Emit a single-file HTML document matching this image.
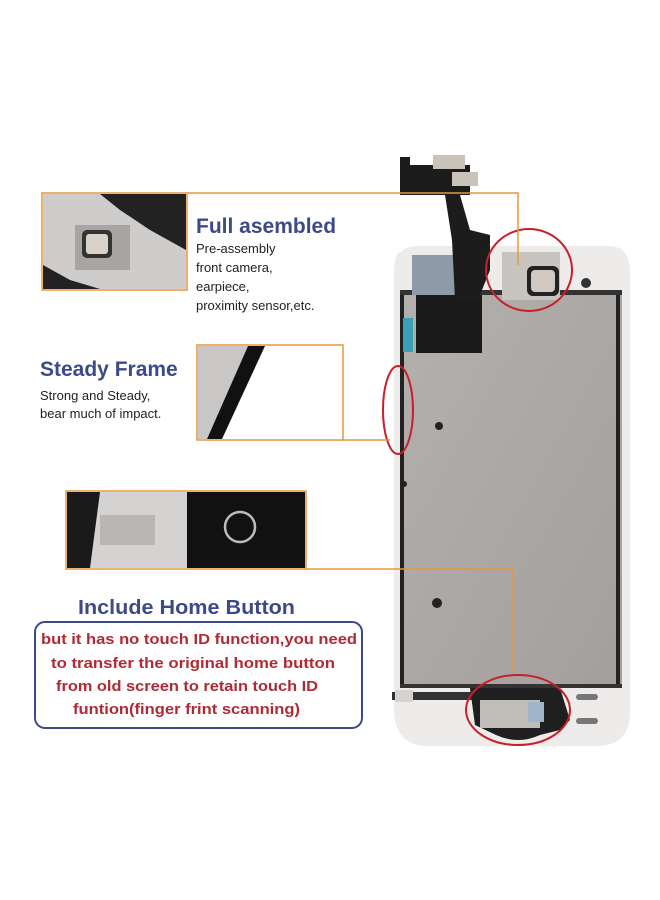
<!DOCTYPE html>
<html><head><meta charset="utf-8"><style>
html,body{margin:0;padding:0;background:#fff;width:660px;height:900px;overflow:hidden}
svg{display:block}
text{font-family:"Liberation Sans","DejaVu Sans",sans-serif}
</style></head><body>
<svg width="660" height="900" viewBox="0 0 660 900" xmlns="http://www.w3.org/2000/svg">
<defs>
<linearGradient id="pl" x1="0" y1="0" x2="1" y2="1"><stop offset="0" stop-color="#b4b0ae"/><stop offset="1" stop-color="#a39f9d"/></linearGradient>
</defs>
<path d="M402 252 Q404 246 420 246 L612 246 Q628 248 630 268 L630 712 Q630 744 600 746 L424 746 Q396 744 394 712 L394 268 Q396 250 402 252Z" fill="#eeeceb"/>
<rect x="400" y="290" width="222" height="398" fill="url(#pl)"/>
<rect x="400" y="290" width="4" height="398" fill="#222"/>
<rect x="616" y="290" width="4" height="398" fill="#222"/>
<rect x="400" y="290" width="222" height="5" fill="#333"/>
<rect x="400" y="684" width="222" height="4" fill="#333"/>
<rect x="412" y="255" width="60" height="40" fill="#8e9aa8"/>
<rect x="416" y="295" width="66" height="58" fill="#1a1a1a"/>
<rect x="403" y="318" width="10" height="34" fill="#3aa0b8"/>
<path d="M400 157 L410 157 L410 165 L470 165 L470 195 L460 195 L470 230 L490 235 L490 270 L478 300 L455 300 L452 240 L445 195 L400 195Z" fill="#1c1c1c"/>
<rect x="433" y="155" width="32" height="14" fill="#c9c3ba"/>
<rect x="452" y="172" width="26" height="14" fill="#c9c3ba"/>
<rect x="502" y="252" width="58" height="48" fill="#c8c4c0"/>
<rect x="527" y="266" width="32" height="30" rx="6" fill="#222"/>
<rect x="531" y="270" width="24" height="22" rx="4" fill="#cfc9c1"/>
<circle cx="586" cy="283" r="5" fill="#333"/>
<circle cx="439" cy="426" r="4" fill="#222"/>
<circle cx="437" cy="603" r="5" fill="#222"/>
<circle cx="404" cy="484" r="3" fill="#222"/>
<rect x="392" y="692" width="80" height="8" fill="#333"/>
<rect x="395" y="690" width="18" height="12" fill="#d6d2cd"/>
<path d="M470 688 L560 688 L570 720 L560 730 L540 735 Q518 745 496 735 L475 725Z" fill="#1f1f1f"/>
<rect x="480" y="700" width="60" height="28" fill="#c0bcb8"/>
<rect x="528" y="702" width="16" height="20" fill="#9fb4c8"/>
<rect x="576" y="694" width="22" height="6" rx="3" fill="#777"/>
<rect x="576" y="718" width="22" height="6" rx="3" fill="#777"/>
<ellipse cx="529" cy="270" rx="43" ry="41" fill="none" stroke="#c8202a" stroke-width="2"/>
<ellipse cx="398" cy="410" rx="15" ry="44" fill="none" stroke="#c8202a" stroke-width="2"/>
<ellipse cx="518" cy="710" rx="52" ry="35" fill="none" stroke="#c8202a" stroke-width="2"/>
<g fill="none" stroke="#e8963f" stroke-width="1.5">
<polyline points="187,193 518,193 518,265"/>
<polyline points="343,440 390,440"/>
<polyline points="306,569 513,569 513,672"/>
<rect x="42" y="193" width="145" height="97"/>
<rect x="197" y="345" width="146" height="95"/>
<rect x="66" y="491" width="240" height="78"/>
</g>
<rect x="43" y="194" width="143" height="95" fill="#cfcdcb"/>
<path d="M100 194 L186 194 L186 250 L150 230 L120 210Z" fill="#222"/>
<rect x="75" y="225" width="55" height="45" fill="#a8a6a4"/>
<rect x="82" y="230" width="30" height="28" rx="5" fill="#333"/>
<rect x="86" y="234" width="22" height="20" rx="3" fill="#d9d2c8"/>
<path d="M43 289 L43 265 L70 280 L100 289Z" fill="#222"/>
<rect x="198" y="346" width="144" height="93" fill="#fff"/>
<path d="M198 346 L248 346 L207 439 L198 439Z" fill="#c9c7c5"/>
<path d="M248 346 L265 346 L222 439 L207 439Z" fill="#111"/>
<rect x="67" y="492" width="120" height="76" fill="#d5d3d1"/>
<path d="M67 492 L100 492 L90 568 L67 568Z" fill="#1a1a1a"/>
<rect x="100" y="515" width="55" height="30" fill="#b9b7b4"/>
<rect x="187" y="492" width="118" height="76" fill="#111"/>
<circle cx="240" cy="527" r="15" fill="none" stroke="#bbb" stroke-width="2.5"/>
<text x="196" y="233" font-size="21" font-weight="bold" fill="#3d4a8a">Full asembled</text>
<g font-size="13" fill="#222">
<text x="196" y="253">Pre-assembly</text>
<text x="196" y="272">front camera,</text>
<text x="196" y="291">earpiece,</text>
<text x="196" y="310">proximity sensor,etc.</text>
<text x="40" y="400">Strong and Steady,</text>
<text x="40" y="418">bear much of impact.</text>
</g>
<text x="40" y="376" font-size="21" font-weight="bold" fill="#3d4a8a">Steady Frame</text>
<text x="78" y="614" font-size="20" font-weight="bold" fill="#3d4a8a" textLength="217" lengthAdjust="spacingAndGlyphs">Include Home Button</text>
<rect x="35" y="622" width="327" height="106" rx="10" fill="none" stroke="#3d4a8a" stroke-width="2"/>
<g font-size="15" font-weight="bold" fill="#b02a35">
<text x="41" y="644" textLength="316" lengthAdjust="spacingAndGlyphs">but it has no touch ID function,you need</text>
<text x="51" y="668" textLength="284" lengthAdjust="spacingAndGlyphs">to transfer the original home button</text>
<text x="56" y="691" textLength="262" lengthAdjust="spacingAndGlyphs">from old screen to retain touch ID</text>
<text x="73" y="714" textLength="227" lengthAdjust="spacingAndGlyphs">funtion(finger frint scanning)</text>
</g>
</svg>
</body></html>
